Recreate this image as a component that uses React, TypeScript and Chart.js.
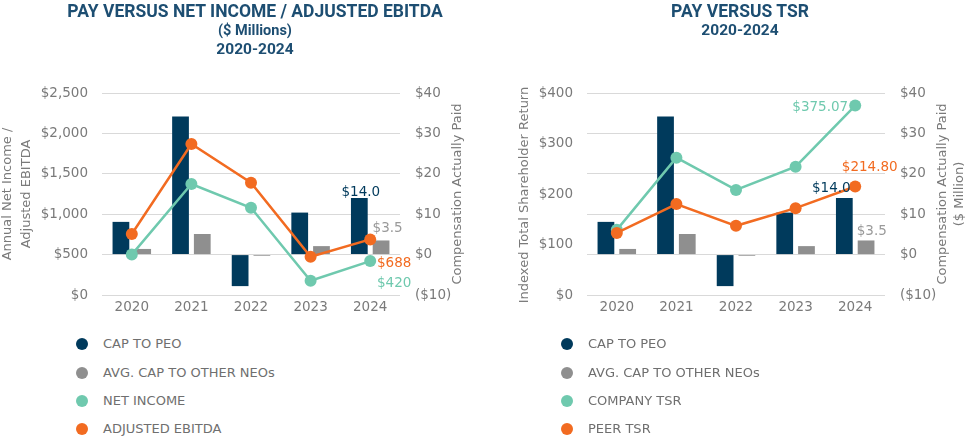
import React, { useEffect, useRef } from "react";
import { Chart, registerables } from "chart.js";

Chart.register(...registerables);

// ---------- data ----------
const years = ["2020", "2021", "2022", "2023", "2024"];
const capToPeo = [8.1, 34.2, -7.8, 10.4, 14.0];
const avgCapOther = [1.4, 5.1, -0.3, 2.1, 3.5];
const netIncome = [500, 1374, 1080, 177, 420];
const adjustedEbitda = [755, 1869, 1390, 474, 688];
const companyTsr = [129, 272, 208, 254, 375.07];
const peerTsr = [123, 180, 137, 172, 214.8];

const capAxis = { min: -10, max: 40, step: 10 };
const incomeAxis = { min: 0, max: 2500, step: 500 };
const tsrAxis = { min: 0, max: 400, step: 100 };

const legend1 = ["CAP TO PEO", "AVG. CAP TO OTHER NEOs", "NET INCOME", "ADJUSTED EBITDA"];
const legend2 = ["CAP TO PEO", "AVG. CAP TO OTHER NEOs", "COMPANY TSR", "PEER TSR"];

// ---------- styles ----------
const NAVY = "#003a5c";
const GRAY = "#8f8f8f";
const TEAL = "#6fc9ae";
const ORANGE = "#f26b21";
const TITLE = "#1d4e72";
const TEXT = "#7a7a7a";
const GRID = "#d9d9d9";
const FONT = "DejaVu Sans";

const money = (v: number) =>
  v < 0 ? `($${Math.abs(v).toLocaleString("en-US")})` : `$${v.toLocaleString("en-US")}`;

type LabelSpec = { ds: number; idx: number; text: string; color: string; dx: number; dy: number };
type AxisTitleSpec = { text: string; x: number; y: number };

function makeLabelsPlugin(labels: LabelSpec[], titles: AxisTitleSpec[]) {
  return {
    id: "customText",
    afterDatasetsDraw(chart: any) {
      const ctx = chart.ctx;
      ctx.save();
      ctx.textAlign = "center";
      ctx.textBaseline = "middle";
      ctx.font = `13.5px "${FONT}"`;
      labels.forEach((l) => {
        const el = chart.getDatasetMeta(l.ds).data[l.idx];
        if (!el) return;
        ctx.fillStyle = l.color;
        ctx.fillText(l.text, el.x + l.dx, el.y + l.dy);
      });
      ctx.font = `13px "${FONT}"`;
      ctx.fillStyle = TEXT;
      titles.forEach((t) => {
        ctx.save();
        ctx.translate(t.x, t.y);
        ctx.rotate(-Math.PI / 2);
        ctx.fillText(t.text, 0, 0);
        ctx.restore();
      });
      ctx.restore();
    },
  };
}

function buildConfig(
  lineA: { label: string; data: number[]; color: string },
  lineB: { label: string; data: number[]; color: string },
  leftAxis: { min: number; max: number; step: number },
  leftGrid: boolean,
  plugin: any
): any {
  const tickFont = { family: FONT, size: 13.5 };
  return {
    type: "bar",
    data: {
      labels: years,
      datasets: [
        {
          type: "bar",
          label: "CAP TO PEO",
          data: capToPeo,
          backgroundColor: NAVY,
          yAxisID: "y1",
          order: 2,
          categoryPercentage: 0.73,
          barPercentage: 0.77,
        },
        {
          type: "bar",
          label: "AVG. CAP TO OTHER NEOs",
          data: avgCapOther,
          backgroundColor: GRAY,
          yAxisID: "y1",
          order: 2,
          categoryPercentage: 0.73,
          barPercentage: 0.77,
        },
        {
          type: "line",
          label: lineA.label,
          data: lineA.data,
          borderColor: lineA.color,
          backgroundColor: lineA.color,
          borderWidth: 2.5,
          pointRadius: 6,
          pointBorderWidth: 0,
          tension: 0,
          yAxisID: "y",
          order: 1,
        },
        {
          type: "line",
          label: lineB.label,
          data: lineB.data,
          borderColor: lineB.color,
          backgroundColor: lineB.color,
          borderWidth: 2.5,
          pointRadius: 6,
          pointBorderWidth: 0,
          tension: 0,
          yAxisID: "y",
          order: 0,
        },
      ],
    },
    options: {
      responsive: false,
      animation: false,
      layout: { padding: { top: 93, left: 0, right: 0, bottom: 0 } },
      plugins: { legend: { display: false }, tooltip: { enabled: false }, title: { display: false } },
      scales: {
        x: {
          grid: { display: false, drawTicks: false },
          border: { display: false },
          ticks: { color: TEXT, font: tickFont, padding: 4 },
          afterFit: (s: any) => {
            s.height = 25;
          },
        },
        y: {
          position: "left",
          min: leftAxis.min,
          max: leftAxis.max,
          ticks: {
            stepSize: leftAxis.step,
            color: TEXT,
            font: tickFont,
            padding: 14,
            callback: (v: any) => money(Number(v)),
          },
          grid: { display: leftGrid, color: GRID, drawTicks: false },
          border: { display: false },
          afterFit: (s: any) => {
            s.width = 102;
          },
        },
        y1: {
          position: "right",
          min: capAxis.min,
          max: capAxis.max,
          ticks: {
            stepSize: capAxis.step,
            color: TEXT,
            font: tickFont,
            padding: 15,
            callback: (v: any) => money(Number(v)),
          },
          grid: { display: true, color: GRID, drawTicks: false },
          border: { display: false },
          afterFit: (s: any) => {
            s.width = 85;
          },
        },
      },
    },
    plugins: [plugin],
  };
}

function ChartCanvas({ config }: { config: () => any }) {
  const ref = useRef<HTMLCanvasElement | null>(null);
  useEffect(() => {
    if (!ref.current) return;
    const chart = new Chart(ref.current, config());
    return () => chart.destroy();
  }, []);
  return (
    <canvas
      ref={ref}
      width={485}
      height={320}
      style={{ position: "absolute", left: 0, top: 0, width: 485, height: 320 }}
    />
  );
}

function Legend({ items, colors }: { items: string[]; colors: string[] }) {
  const rows = [344, 373, 401, 429];
  return (
    <>
      {items.map((t, i) => (
        <div key={t} style={{ position: "absolute", left: 0, top: rows[i] - 10, height: 20, width: 485 }}>
          <div
            style={{
              position: "absolute",
              left: 76,
              top: 4,
              width: 12,
              height: 12,
              borderRadius: 6,
              background: colors[i],
            }}
          />
          <div
            style={{
              position: "absolute",
              left: 103,
              top: 0,
              lineHeight: "20px",
              fontSize: 13,
              fontFamily: FONT,
              color: "#6f6f6f",
              whiteSpace: "nowrap",
            }}
          >
            {t}
          </div>
        </div>
      ))}
    </>
  );
}

function TitleLine({ text, cy, size }: { text: string; cy: number; size: number }) {
  return (
    <div
      style={{
        position: "absolute",
        left: 255 - 250,
        width: 500,
        top: cy - 10,
        lineHeight: "20px",
        textAlign: "center",
        fontFamily: "Roboto",
        fontWeight: 700,
        fontSize: size,
        color: TITLE,
        whiteSpace: "nowrap",
      }}
    >
      {text}
    </div>
  );
}

export default function App() {
  const cfg1 = () =>
    buildConfig(
      { label: "NET INCOME", data: netIncome, color: TEAL },
      { label: "ADJUSTED EBITDA", data: adjustedEbitda, color: ORANGE },
      incomeAxis,
      false,
      makeLabelsPlugin(
        [
          { ds: 0, idx: 4, text: `$${capToPeo[4].toFixed(1)}`, color: NAVY, dx: 1.5, dy: -6 },
          { ds: 1, idx: 4, text: `$${avgCapOther[4].toFixed(1)}`, color: "#9a9a9a", dx: 6.5, dy: -12 },
          { ds: 3, idx: 4, text: money(adjustedEbitda[4]), color: ORANGE, dx: 24, dy: 24 },
          { ds: 2, idx: 4, text: money(netIncome[4]), color: TEAL, dx: 24, dy: 22 },
        ],
        [
          { text: "Annual Net Income /", x: 8, y: 194 },
          { text: "Adjusted EBITDA", x: 27, y: 194 },
          { text: "Compensation Actually Paid", x: 458, y: 194 },
        ]
      )
    );
  const cfg2 = () =>
    buildConfig(
      { label: "COMPANY TSR", data: companyTsr, color: TEAL },
      { label: "PEER TSR", data: peerTsr, color: ORANGE },
      tsrAxis,
      false,
      makeLabelsPlugin(
        [
          { ds: 2, idx: 4, text: `$${companyTsr[4].toFixed(2)}`, color: TEAL, dx: -35, dy: 1.5 },
          { ds: 3, idx: 4, text: `$${peerTsr[4].toFixed(2)}`, color: ORANGE, dx: 14.5, dy: -19.5 },
          { ds: 0, idx: 4, text: `$${capToPeo[4].toFixed(1)}`, color: NAVY, dx: -13, dy: -9.5 },
          { ds: 1, idx: 4, text: `$${avgCapOther[4].toFixed(1)}`, color: "#9a9a9a", dx: 5.7, dy: -8.5 },
        ],
        [
          { text: "Indexed Total Shareholder Return", x: 40, y: 195 },
          { text: "Compensation Actually Paid", x: 457.5, y: 194 },
          { text: "($ Million)", x: 475, y: 194 },
        ]
      )
    );
  const colors = [NAVY, GRAY, TEAL, ORANGE];
  return (
    <div
      style={{
        position: "fixed",
        left: 0,
        top: 0,
        width: 970,
        height: 440,
        background: "#ffffff",
        overflow: "hidden",
      }}
    >
      <div style={{ position: "absolute", left: 0, top: 0, width: 485, height: 440 }}>
        <ChartCanvas config={cfg1} />
        <TitleLine text="PAY VERSUS NET INCOME / ADJUSTED EBITDA" cy={11} size={17.5} />
        <TitleLine text="($ Millions)" cy={31} size={14.5} />
        <TitleLine text="2020-2024" cy={48.5} size={15.5} />
        <Legend items={legend1} colors={colors} />
      </div>
      <div style={{ position: "absolute", left: 485, top: 0, width: 485, height: 440 }}>
        <ChartCanvas config={cfg2} />
        <TitleLine text="PAY VERSUS TSR" cy={11} size={17.5} />
        <TitleLine text="2020-2024" cy={30} size={15.5} />
        <Legend items={legend2} colors={colors} />
      </div>
    </div>
  );
}
